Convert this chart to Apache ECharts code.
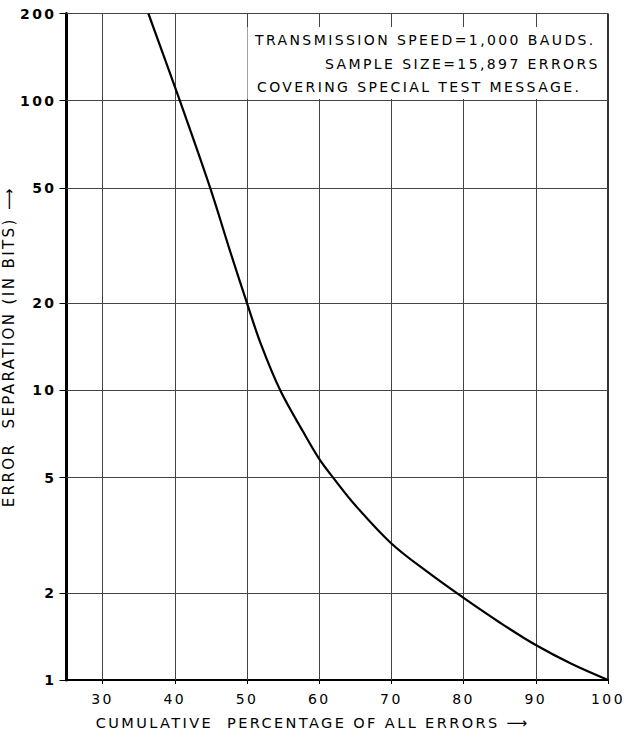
<!DOCTYPE html>
<html>
<head>
<meta charset="utf-8">
<script src="https://cdn.jsdelivr.net/npm/echarts@6/dist/echarts.min.js"></script>
<style>
  html, body { margin: 0; padding: 0; background: #fff; }
  #chart { width: 626px; height: 732px; }
  #chart text { letter-spacing: 2.4px; }
</style>
</head>
<body>
<div id="chart"></div>
<script>
// Cumulative percentage of all errors (x) against error separation in bits (y, log scale)
const cumulativePct   = [36.34, 40.7, 44.9, 47.7, 50.0, 51.94, 54.6, 57.74, 60.0, 62.06, 65.0, 70.0, 75.0, 80.0, 85.0, 90.0, 95.0,  100.0];
const errorSeparation = [200,   100,  50,   30,   20,   14.4,  10,   7.22,  5.8,  4.95,  4.01, 2.96, 2.36, 1.92, 1.58, 1.32, 1.135, 1];

const xTicks = [30, 40, 50, 60, 70, 80, 90, 100];
const yTicks = [1, 2, 5, 10, 20, 50, 100, 200];

const xTitle = 'CUMULATIVE  PERCENTAGE OF ALL ERRORS ⟶';
const yTitle = 'ERROR  SEPARATION (IN BITS) ⟶';
const noteLines = [
  'TRANSMISSION SPEED=1,000 BAUDS.',
  'SAMPLE SIZE=15,897 ERRORS',
  'COVERING SPECIAL TEST MESSAGE.'
];

const ink = '#000';
const gridInk = '#444';
const font = 'DejaVu Sans';

const curve = cumulativePct.map((x, i) => [x, errorSeparation[i]]);

// grid lines at the labelled values, drawn through the axes' own scales
const gridLines = []
  .concat(xTicks.slice(0, -1).map(v => ({ xAxis: v })))
  .concat([{ xAxis: 100, lineStyle: { width: 1.6, color: ink } }])
  .concat(yTicks.slice(1).map(v => ({ yAxis: v })));

const chart = echarts.init(document.getElementById('chart'), null, { renderer: 'svg' });

chart.setOption({
  animation: false,
  backgroundColor: '#fff',
  textStyle: { fontFamily: font, color: ink },
  grid: { left: 66.5, right: 18, top: 13.5, bottom: 52, containLabel: false, outerBoundsMode: 'none' },
  xAxis: {
    type: 'value',
    min: 25,
    max: 100,
    axisLine: { show: true, onZero: false, lineStyle: { color: ink, width: 2 } },
    axisTick: { show: true, customValues: xTicks, length: 4, lineStyle: { color: ink } },
    axisLabel: { customValues: xTicks, fontSize: 14, color: ink, margin: 12, fontFamily: font },
    splitLine: { show: false },
    name: xTitle,
    nameLocation: 'middle',
    nameGap: 35,
    nameTextStyle: { fontSize: 14.5, color: ink, fontFamily: font, padding: [0, 49, 0, 0] }
  },
  yAxis: {
    type: 'log',
    logBase: 10,
    min: 1,
    max: 200,
    axisLine: { show: true, lineStyle: { color: ink, width: 3 } },
    axisTick: { show: true, customValues: yTicks, length: 7, lineStyle: { color: ink } },
    axisLabel: { customValues: yTicks, fontSize: 14, fontWeight: 'bold', color: ink, margin: 10, fontFamily: font },
    splitLine: { show: false },
    minorTick: { show: false },
    name: yTitle,
    nameLocation: 'middle',
    nameRotate: 90,
    nameGap: 44,
    nameTextStyle: { fontSize: 15, color: ink, fontFamily: font }
  },
  series: [{
    type: 'line',
    data: curve,
    symbol: 'none',
    smooth: 0.35,
    lineStyle: { color: ink, width: 2.2 },
    z: 5,
    markLine: {
      silent: true,
      symbol: ['none', 'none'],
      label: { show: false },
      lineStyle: { color: gridInk, width: 1, type: 'solid' },
      data: gridLines
    }
  }],
  graphic: [
    {
      type: 'rect',
      z: 50,
      shape: { x: 247.5, y: 27, width: 359.5, height: 72 },
      style: { fill: '#fff' }
    },
    {
      type: 'text', z: 51, x: 255, y: 40,
      style: { text: noteLines[0], font: '14px "DejaVu Sans"', fill: ink, textAlign: 'left', textVerticalAlign: 'middle' }
    },
    {
      type: 'text', z: 51, x: 325, y: 63.5,
      style: { text: noteLines[1], font: '14px "DejaVu Sans"', fill: ink, textAlign: 'left', textVerticalAlign: 'middle' }
    },
    {
      type: 'text', z: 51, x: 257, y: 87,
      style: { text: noteLines[2], font: '14px "DejaVu Sans"', fill: ink, textAlign: 'left', textVerticalAlign: 'middle' }
    }
  ]
});
</script>
</body>
</html>
